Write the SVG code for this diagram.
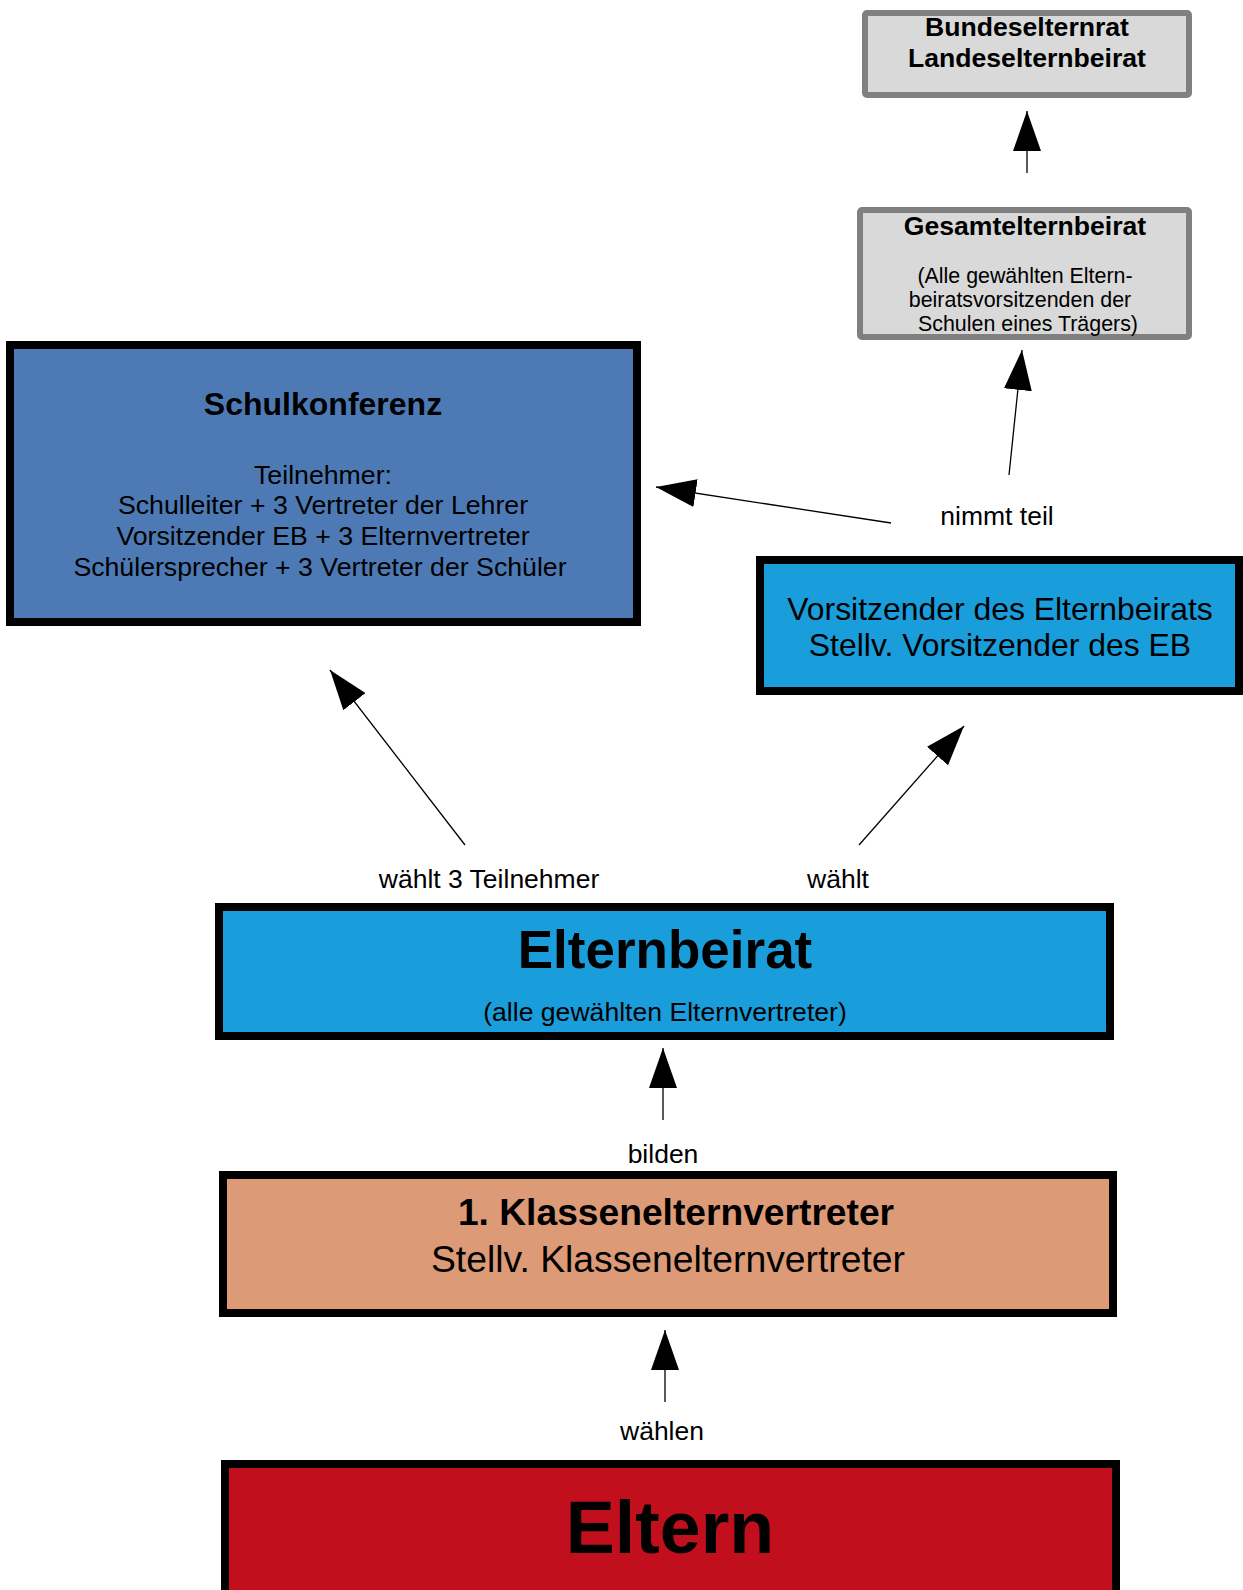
<svg xmlns="http://www.w3.org/2000/svg" width="1243" height="1590" viewBox="0 0 1243 1590">
<defs>
<marker id="ah" markerUnits="userSpaceOnUse" markerWidth="40" markerHeight="28" refX="40" refY="14" orient="auto" viewBox="0 0 40 28">
<path d="M0,0 L40,14 L0,28 Z" fill="#000"/>
</marker>
<style>
text{font-family:"Liberation Sans",Arial,sans-serif;fill:#000;text-anchor:middle}
.b{font-weight:bold}
.box{stroke:#000;stroke-width:8}
.gray{fill:#d9d9d9;stroke:#808080;stroke-width:6}
.con line{stroke:#000;stroke-width:1.3;marker-end:url(#ah)}
.lbl{font-size:26.5px}
</style>
</defs>
<rect width="1243" height="1590" fill="#fff"/>

<g id="bundeselternrat">
<rect class="gray" x="865" y="13" width="324" height="82" rx="2"/>
<text class="b" x="1027" y="36" font-size="26.6">Bundeselternrat</text>
<text class="b" x="1027" y="67" font-size="26.6">Landeselternbeirat</text>
</g>

<g id="gesamtelternbeirat">
<rect class="gray" x="860" y="210" width="329" height="127" rx="2"/>
<text class="b" x="1025" y="235" font-size="26.6">Gesamtelternbeirat</text>
<text x="1025" y="283" font-size="21.4">(Alle gewählten Eltern-</text>
<text x="1020" y="307" font-size="21.4">beiratsvorsitzenden der</text>
<text x="1028" y="331" font-size="21.4">Schulen eines Trägers)</text>
</g>

<g id="schulkonferenz">
<rect class="box" x="10" y="345" width="627" height="277" fill="#4d7ab4"/>
<text class="b" x="323" y="415" font-size="32">Schulkonferenz</text>
<text x="323" y="484" font-size="26.7">Teilnehmer:</text>
<text x="323" y="514" font-size="26.7">Schulleiter + 3 Vertreter der Lehrer</text>
<text x="323" y="545" font-size="26.7">Vorsitzender EB + 3 Elternvertreter</text>
<text x="320" y="576" font-size="26.7">Schülersprecher + 3 Vertreter der Schüler</text>
</g>

<g id="vorsitzender">
<rect class="box" x="760" y="560" width="479" height="131" fill="#1a9ddb"/>
<text x="1000" y="620" font-size="31.9">Vorsitzender des Elternbeirats</text>
<text x="1000" y="656" font-size="31.9">Stellv. Vorsitzender des EB</text>
</g>

<g id="elternbeirat">
<rect class="box" x="219" y="907" width="891" height="129" fill="#1a9ddb"/>
<text class="b" x="665" y="968" font-size="53">Elternbeirat</text>
<text x="665" y="1021" font-size="26.6">(alle gewählten Elternvertreter)</text>
</g>

<g id="klassenelternvertreter">
<rect class="box" x="223" y="1175" width="890" height="138" fill="#dd9a76"/>
<text class="b" x="676" y="1225" font-size="37.2">1. Klassenelternvertreter</text>
<text x="668" y="1272" font-size="37.3">Stellv. Klassenelternvertreter</text>
</g>

<g id="eltern">
<rect class="box" x="225" y="1464" width="891" height="200" fill="#c20f1d"/>
<text class="b" x="670" y="1553" font-size="73.5">Eltern</text>
</g>

<g class="con" id="connectors">
<line x1="1027" y1="173" x2="1027" y2="111"/>
<line x1="1009" y1="475" x2="1022" y2="350"/>
<line x1="891" y1="523" x2="656" y2="487"/>
<line x1="465" y1="845" x2="330" y2="670"/>
<line x1="859" y1="845" x2="964" y2="726"/>
<line x1="663" y1="1120" x2="663" y2="1048"/>
<line x1="665" y1="1402" x2="665" y2="1330"/>
<text class="lbl" x="997" y="525">nimmt teil</text>
<text class="lbl" x="489" y="888">wählt 3 Teilnehmer</text>
<text class="lbl" x="838" y="888">wählt</text>
<text class="lbl" x="663" y="1163">bilden</text>
<text class="lbl" x="662" y="1440">wählen</text>
</g>
</svg>
